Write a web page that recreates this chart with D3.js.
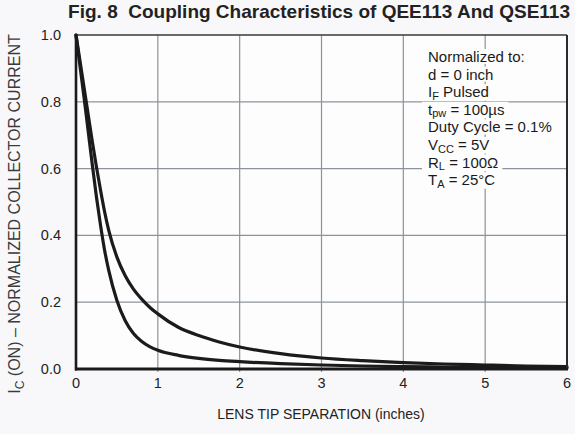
<!DOCTYPE html>
<html><head><meta charset="utf-8">
<script src="https://cdn.jsdelivr.net/npm/d3@7"></script>
<style>
html,body{margin:0;padding:0;background:#f8f8fa;}
svg{display:block;font-family:"Liberation Sans",Arial,sans-serif;}
</style></head>
<body><svg id="c" width="575" height="434"></svg>
<script>
// ---- data ----
const xTicks = [0, 1, 2, 3, 4, 5, 6];
const yTicks = [0, 0.2, 0.4, 0.6, 0.8, 1.0];
const sepX = [0, 0.05, 0.1, 0.15, 0.2, 0.25, 0.3, 0.35, 0.4, 0.5, 0.6, 0.7, 0.8, 0.9, 1.0, 1.25, 1.5, 1.75, 2, 2.5, 3, 3.5, 4, 4.5, 5, 5.5, 6];
const upperY = [1.0, 0.92, 0.84, 0.76, 0.68, 0.605, 0.535, 0.47, 0.415, 0.335, 0.28, 0.24, 0.21, 0.185, 0.165, 0.125, 0.10, 0.081, 0.066, 0.046, 0.033, 0.025, 0.019, 0.015, 0.012, 0.009, 0.007];
const lowerY = [1.0, 0.905, 0.81, 0.71, 0.61, 0.515, 0.43, 0.355, 0.295, 0.205, 0.145, 0.107, 0.083, 0.067, 0.056, 0.041, 0.032, 0.026, 0.022, 0.016, 0.012, 0.009, 0.007, 0.006, 0.005, 0.004, 0.003];
const titleText = "Fig. 8  Coupling Characteristics of QEE113 And QSE113";
const xTitle = "LENS TIP SEPARATION (inches)";
// annotation lines: [main, subscript, rest]
const notes = [
  ["Normalized to:", "", ""],
  ["d = 0 inch", "", ""],
  ["I", "F", " Pulsed"],
  ["t", "pw", " = 100µs"],
  ["Duty Cycle = 0.1%", "", ""],
  ["V", "CC", " = 5V"],
  ["R", "L", " = 100Ω"],
  ["T", "A", " = 25°C"]
];

const svg = d3.select("#c");
const L = 76, R = 567, T = 35, B = 369;
const x = d3.scaleLinear().domain([0, 6]).range([L, R]);
const y = d3.scaleLinear().domain([0, 1]).range([B, T]);

// plot background
svg.append("rect").attr("x", L).attr("y", T).attr("width", R - L).attr("height", B - T).attr("fill", "#fdfdfd");

// grid
const g = svg.append("g");
g.selectAll("line.vx").data(xTicks.slice(1, -1)).join("line")
  .attr("x1", d => x(d)).attr("x2", d => x(d)).attr("y1", T).attr("y2", B + 3)
  .attr("stroke", "#8d939b").attr("stroke-width", 1.2);
g.selectAll("line.hy").data(yTicks.slice(1, -1)).join("line")
  .attr("x1", L).attr("x2", R).attr("y1", d => y(d)).attr("y2", d => y(d))
  .attr("stroke", "#8d939b").attr("stroke-width", 1.2);

// annotation with white backgrounds
const ann = svg.append("g");
const lineH = 17.6;
notes.forEach((n, i) => {
  const t = ann.append("text").attr("x", 428).attr("y", 62 + i * lineH)
    .attr("font-size", 15).attr("fill", "#1a1a1a");
  t.append("tspan").text(n[0]);
  if (n[1]) {
    t.append("tspan").attr("font-size", 11).attr("dy", 2.5).text(n[1]);
    t.append("tspan").attr("dy", -2.5).text(n[2]);
  }
  const bb = t.node().getBBox();
  ann.insert("rect", "text").attr("x", bb.x - 6).attr("y", bb.y + 1)
    .attr("width", bb.width + 10).attr("height", bb.height - 2).attr("fill", "#fdfdfd");
});

// curves
const line = d3.line().x(d => x(d[0])).y(d => y(d[1])).curve(d3.curveMonotoneX);
[upperY, lowerY].forEach(ser => {
  svg.append("path").datum(sepX.map((v, i) => [v, ser[i]]))
    .attr("d", line).attr("fill", "none").attr("stroke", "#1c1a1b").attr("stroke-width", 3.2)
    .attr("stroke-linejoin", "round").attr("stroke-linecap", "round");
});

// frame
svg.append("line").attr("x1", L).attr("x2", R).attr("y1", T).attr("y2", T).attr("stroke", "#3a3a3a").attr("stroke-width", 1.6);
svg.append("line").attr("x1", R).attr("x2", R).attr("y1", T).attr("y2", B).attr("stroke", "#2a2a2a").attr("stroke-width", 2);
svg.append("line").attr("x1", L).attr("x2", L).attr("y1", T - 1).attr("y2", B + 1.5).attr("stroke", "#1a1a1a").attr("stroke-width", 2.6);
svg.append("line").attr("x1", L - 1).attr("x2", R + 1).attr("y1", B).attr("y2", B).attr("stroke", "#1a1a1a").attr("stroke-width", 3);

// axes labels
svg.selectAll("text.yt").data(yTicks).join("text")
  .attr("x", 61).attr("y", d => y(d) + 5).attr("text-anchor", "end")
  .attr("font-size", 14.5).attr("fill", "#222").text(d => d.toFixed(1));
svg.selectAll("text.xt").data(xTicks).join("text")
  .attr("x", d => x(d)).attr("y", 388).attr("text-anchor", "middle")
  .attr("font-size", 14.5).attr("fill", "#222").text(d => d);

svg.append("text").attr("x", 321).attr("y", 419).attr("text-anchor", "middle")
  .attr("font-size", 14).attr("fill", "#222").text(xTitle);

const yt = svg.append("text").attr("transform", "translate(20,214) rotate(-90)")
  .attr("text-anchor", "middle").attr("font-size", 16).attr("fill", "#3a3a3a");
yt.append("tspan").text("I");
yt.append("tspan").attr("font-size", 12).attr("dy", 3.5).text("C");
yt.append("tspan").attr("dy", -3.5).text(" (ON) – NORMALIZED COLLECTOR CURRENT");

svg.append("text").attr("x", 570).attr("y", 18).attr("text-anchor", "end")
  .style("white-space", "pre")
  .attr("font-size", 19).attr("font-weight", "bold").attr("fill", "#222").text(titleText);
</script></body></html>
